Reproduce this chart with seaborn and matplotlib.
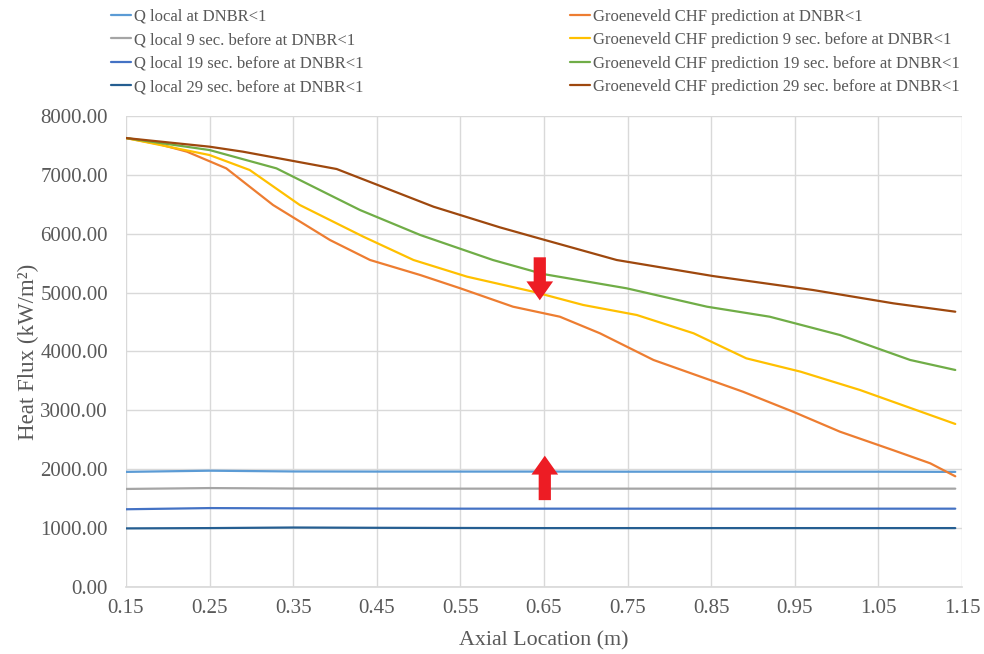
import matplotlib
matplotlib.use("Agg")
import matplotlib.pyplot as plt
import seaborn as sns
from matplotlib.ticker import FormatStrFormatter, MultipleLocator

# Axial positions (m) and heat flux (kW/m²) for each series
x_orange = [0.15, 0.19, 0.223, 0.27, 0.326, 0.394, 0.442, 0.502, 0.55, 0.613, 0.669,
            0.717, 0.781, 0.888, 0.948, 1.004, 1.067, 1.112, 1.142]
chf_0 = [7626, 7520, 7394, 7111, 6488, 5894, 5554, 5299, 5073, 4761, 4591,
         4309, 3856, 3317, 2977, 2638, 2327, 2101, 1880]

x_yellow = [0.15, 0.25, 0.298, 0.358, 0.434, 0.494, 0.558, 0.637, 0.697, 0.761, 0.829,
            0.892, 0.957, 1.028, 1.142]
chf_9 = [7626, 7337, 7083, 6488, 5950, 5554, 5271, 5016, 4790, 4620, 4309,
         3884, 3657, 3346, 2769]

x_green = [0.15, 0.25, 0.33, 0.398, 0.43, 0.502, 0.589, 0.649, 0.749, 0.845, 0.92,
           1.004, 1.088, 1.142]
chf_19 = [7626, 7422, 7111, 6629, 6403, 5979, 5554, 5316, 5073, 4761, 4591,
          4280, 3856, 3686]

x_brown = [0.15, 0.25, 0.29, 0.402, 0.446, 0.518, 0.597, 0.637, 0.737, 0.852, 0.972,
           1.068, 1.142]
chf_29 = [7626, 7479, 7394, 7100, 6857, 6459, 6110, 5950, 5554, 5282, 5044,
          4818, 4676]

x_q = [0.15, 0.25, 0.35, 0.45, 0.55, 0.65, 0.75, 0.85, 0.95, 1.05, 1.142]
q_0 = [1955, 1975, 1962, 1960, 1960, 1960, 1958, 1958, 1958, 1958, 1955]
q_9 = [1665, 1680, 1672, 1670, 1670, 1670, 1670, 1670, 1670, 1670, 1670]
q_19 = [1320, 1340, 1335, 1332, 1330, 1330, 1330, 1330, 1330, 1330, 1330]
q_29 = [995, 1000, 1010, 1005, 1002, 1000, 1000, 1000, 1000, 1000, 1000]

x_ticks = [0.15, 0.25, 0.35, 0.45, 0.55, 0.65, 0.75, 0.85, 0.95, 1.05, 1.15]

sns.set_theme(style="white")
plt.rcParams["font.family"] = ["Liberation Serif", "DejaVu Serif"]
text_color = "#595959"

fig = plt.figure(figsize=(9.84, 6.54), dpi=100)
ax = fig.add_axes([0.128, 0.1025, 0.8496, 0.7201])

series = [
    (x_q, q_0, "Q local at DNBR<1", "#5B9BD5"),
    (x_q, q_9, "Q local 9 sec. before at DNBR<1", "#A5A5A5"),
    (x_q, q_19, "Q local 19 sec. before at DNBR<1", "#4472C4"),
    (x_q, q_29, "Q local 29 sec. before at DNBR<1", "#255E91"),
    (x_orange, chf_0, "Groeneveld CHF prediction at DNBR<1", "#ED7D31"),
    (x_yellow, chf_9, "Groeneveld CHF prediction 9 sec. before at DNBR<1", "#FFC000"),
    (x_green, chf_19, "Groeneveld CHF prediction 19 sec. before at DNBR<1", "#70AD47"),
    (x_brown, chf_29, "Groeneveld CHF prediction 29 sec. before at DNBR<1", "#9E480E"),
]
for xs, ys, label, color in series:
    sns.lineplot(x=xs, y=ys, ax=ax, color=color, linewidth=1.6, label=label,
                 sort=False, legend=False)

ax.set_xlim(0.15, 1.15)
ax.set_ylim(0, 8000)
ax.set_xticks(x_ticks)
ax.yaxis.set_major_locator(MultipleLocator(1000))
ax.xaxis.set_major_formatter(FormatStrFormatter("%.2f"))
ax.yaxis.set_major_formatter(FormatStrFormatter("%.2f"))
ax.grid(True, color="#D9D9D9", linewidth=1.0)
ax.set_axisbelow(True)
for side in ["top", "right", "left"]:
    ax.spines[side].set_visible(False)
ax.spines["bottom"].set_color("#D9D9D9")
ax.tick_params(axis="both", labelsize=15, colors=text_color, length=0)
ax.tick_params(axis="x", pad=9)
ax.tick_params(axis="y", pad=13)
ax.set_xlabel("Axial Location (m)", fontsize=15.8, color=text_color, labelpad=9)
ax.set_ylabel("Heat Flux (kW/m²)", fontsize=16.5, color=text_color, labelpad=1)

# Red arrows marking the gap between CHF prediction and local heat flux
arrow_style = "simple,head_length=0.85,head_width=1.2,tail_width=0.55"
ax.annotate("", xy=(0.645, 4870), xytext=(0.645, 5600),
            arrowprops=dict(arrowstyle=arrow_style, color="#ED1C24",
                            mutation_scale=16, shrinkA=0, shrinkB=0, lw=0))
ax.annotate("", xy=(0.651, 2230), xytext=(0.651, 1475),
            arrowprops=dict(arrowstyle=arrow_style, color="#ED1C24",
                            mutation_scale=16, shrinkA=0, shrinkB=0, lw=0))

handles, labels = ax.get_legend_handles_labels()
leg = fig.legend(handles, labels, loc="upper left", bbox_to_anchor=(0.103, 1.002),
                 ncol=2, frameon=False, fontsize=12, handlelength=1.2,
                 handletextpad=0.15, columnspacing=12.4, labelspacing=0.45,
                 borderaxespad=0.2)
for t in leg.get_texts():
    t.set_color(text_color)

fig.savefig("out.png", dpi=100)
